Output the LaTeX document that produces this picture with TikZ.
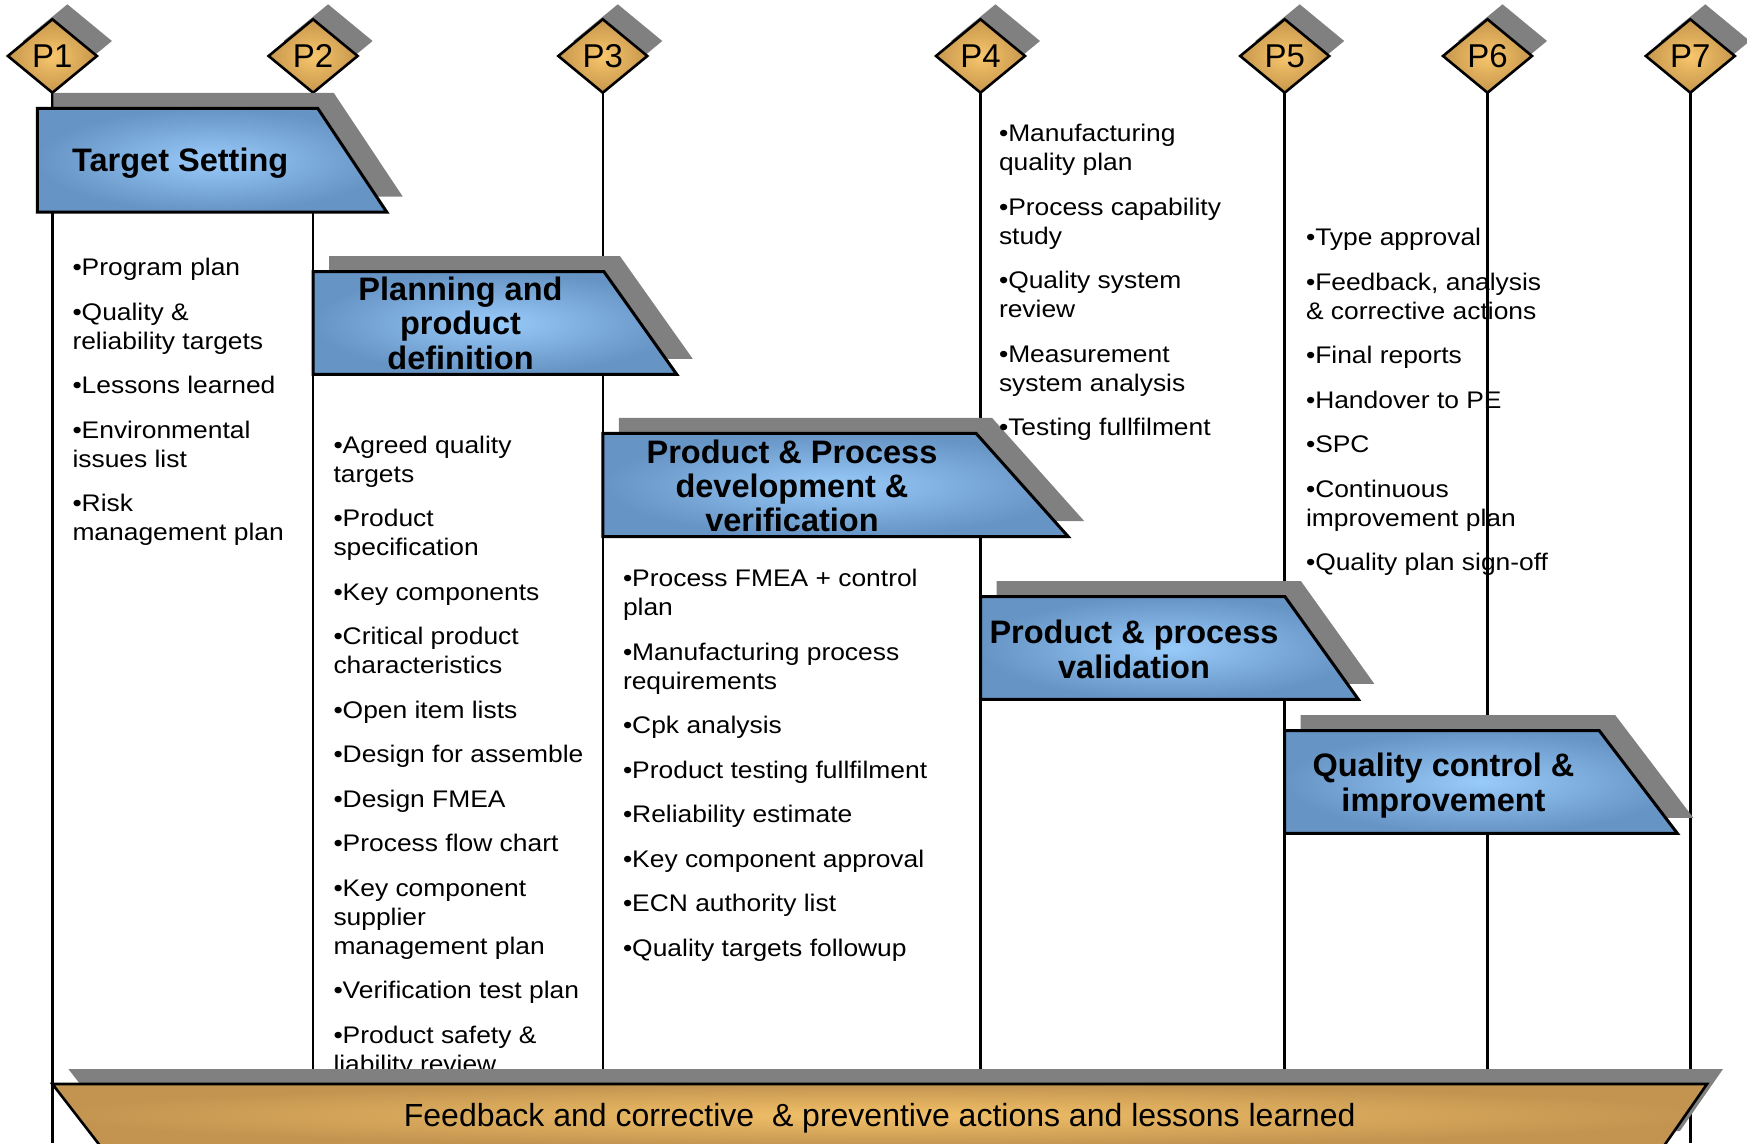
\documentclass[tikz,border=0pt]{standalone}
\usepackage{fontspec}
\setmainfont{Liberation Sans}
\newfontfamily\bulletfont{Liberation Sans}[FakeStretch=1.1]
\usetikzlibrary{shapes.geometric}
\definecolor{shadowgray}{RGB}{128,128,128}
\definecolor{bluein}{RGB}{152,202,250}
\definecolor{blueout}{RGB}{102,148,196}
\definecolor{goldin}{RGB}{248,198,108}
\definecolor{goldout}{RGB}{198,150,76}
\definecolor{barin}{RGB}{242,192,104}
\definecolor{barout}{RGB}{194,148,80}
\newcommand\tstrut[1]{\vrule height #1pt depth 0pt width 0pt\relax}
\newcommand\phasebox[5]{%
  \fill[shadowgray,shift={(16,-15.5)}] (#1,#2) -- (#4,#2) -- (#5,#3) -- (#1,#3) -- cycle;
  \shadedraw[phase] (#1,#2) -- (#4,#2) -- (#5,#3) -- (#1,#3) -- cycle;}
\begin{document}
\begin{tikzpicture}[x=1pt,y=-1pt,
  milestone/.style={shape=diamond, draw=black, line width=2.6pt, minimum width=89pt,
    minimum height=73.4pt, inner sep=0pt, outer sep=0pt, inner color=goldin,
    outer color=goldout, font=\fontsize{33}{38}\selectfont},
  vline/.style={draw=black, line width=2.6pt},
  phase/.style={draw=black, line width=3pt, line join=miter, inner color=bluein, outer color=blueout},
  items/.style={anchor=north west, inner sep=0pt, outer sep=0pt, align=left,
    font=\bulletfont\fontsize{24}{29}\selectfont},
  ptitle/.style={anchor=north, inner sep=0pt, outer sep=0pt, align=center,
    font=\bfseries\fontsize{32.5}{#1}\selectfont},
]
\clip (0,0) rectangle (1747,1143);

% milestone shadows
\foreach \x in {52.4,313.1,602.8,980.5,1284.7,1487.5,1690.3}
  \fill[shadowgray] (\x+15,4.3) -- (\x+59.5,41) -- (\x+15,77.7) -- (\x-29.5,41) -- cycle;

% milestones
\node[milestone] (P1) at (52.4,56) {P1};
\node[milestone] (P2) at (313.1,56) {P2};
\node[milestone] (P3) at (602.8,56) {P3};
\node[milestone] (P4) at (980.5,56) {P4};
\node[milestone] (P5) at (1284.7,56) {P5};
\node[milestone] (P6) at (1487.5,56) {P6};
\node[milestone] (P7) at (1690.3,56) {P7};

\coordinate (b1) at (52.4,1143);
\coordinate (b2) at (313.1,1143);
\coordinate (b3) at (602.8,1143);
\coordinate (b4) at (980.5,1143);
\coordinate (b5) at (1284.7,1143);
\coordinate (b6) at (1487.5,1143);
\coordinate (b7) at (1690.3,1143);

\draw[vline] (P1.south) -- (b1);
\draw[vline] (P2.south) -- (b2);
\draw[vline] (P3.south) -- (b3);
\draw[vline] (P4.south) -- (b4);
\draw[vline] (P5.south) -- (b5);
\draw[vline] (P6.south) -- (b6);
\draw[vline] (P7.south) -- (b7);

% phase boxes
\phasebox{37.3}{108.3}{212}{317.7}{386.7}
\phasebox{313.1}{271.7}{374.3}{604}{676.7}
\phasebox{602.8}{433.3}{536.7}{976}{1068.3}
\phasebox{980.5}{596.7}{699.3}{1285}{1358.3}
\phasebox{1284.7}{730.7}{833.3}{1599.3}{1677.3}

% titles
\node[anchor=base west, inner sep=0pt, font=\bfseries\fontsize{32.5}{36}\selectfont] (t1) at (72,171.7) {Target Setting};
\node[ptitle=34.5] (t2) at (460.5,300-36) {\tstrut{36}Planning and\\product\\definition};
\node[ptitle=34] (t3) at (792,463.3-36) {\tstrut{36}Product \& Process\\development \&\\verification};
\node[ptitle=35] (t4) at (1134,643.3-36) {\tstrut{36}Product \& process\\validation};
\node[ptitle=35] (t5) at (1443.5,776-36) {\tstrut{36}Quality control \&\\improvement};

% item lists
\node[items] (c1) at (72.5,275.5-30) {\tstrut{30}•Program plan\\[15.5pt]•Quality \&\\reliability targets\\[15.5pt]•Lessons learned\\[15.5pt]•Environmental\\issues list\\[15.5pt]•Risk\\management plan};
\node[items] (c2) at (333.5,453-30) {\tstrut{30}•Agreed quality\\targets\\[15.5pt]•Product\\specification\\[15.5pt]•Key components\\[15.5pt]•Critical product\\characteristics\\[15.5pt]•Open item lists\\[15.5pt]•Design for assemble\\[15.5pt]•Design FMEA\\[15.5pt]•Process flow chart\\[15.5pt]•Key component\\supplier\\management plan\\[15.5pt]•Verification test plan\\[15.5pt]•Product safety \&\\liability review};
\node[items] (c3) at (623,586.5-30) {\tstrut{30}•Process FMEA + control\\plan\\[15.5pt]•Manufacturing process\\requirements\\[15.5pt]•Cpk analysis\\[15.5pt]•Product testing fullfilment\\[15.5pt]•Reliability estimate\\[15.5pt]•Key component approval\\[15.5pt]•ECN authority list\\[15.5pt]•Quality targets followup};
\node[items] (c4) at (999,141.5-30) {\tstrut{30}•Manufacturing\\quality plan\\[15.5pt]•Process capability\\study\\[15.5pt]•Quality system\\review\\[15.5pt]•Measurement\\system analysis\\[15.5pt]•Testing fullfilment};
\node[items] (c5) at (1306,245.5-30) {\tstrut{30}•Type approval\\[15.5pt]•Feedback, analysis\\\& corrective actions\\[15.5pt]•Final reports\\[15.5pt]•Handover to PE\\[15.5pt]•SPC\\[15.5pt]•Continuous\\improvement plan\\[15.5pt]•Quality plan sign-off};

% feedback bar
\fill[shadowgray,shift={(16,-15)}] (52.4,1084) -- (1707,1084) -- (1663.9,1146) -- (100.3,1146) -- cycle;
\shadedraw[draw=black, line width=2.6pt, inner color=barin, outer color=barout] (52.4,1084) -- (1707,1084) -- (1663.9,1146) -- (100.3,1146) -- cycle;
\node[font=\fontsize{32}{38}\selectfont, anchor=base, inner sep=0pt] (fb) at (879.7,1126.7) {Feedback and corrective\ \ \& preventive actions and lessons learned};
\end{tikzpicture}
\end{document}
